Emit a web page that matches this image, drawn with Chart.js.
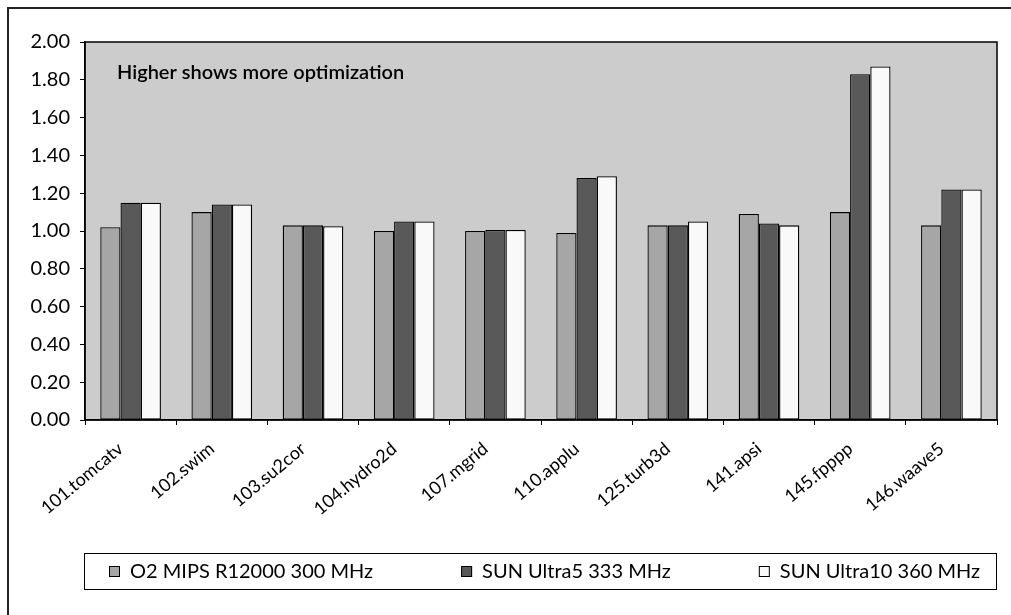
<!DOCTYPE html>
<html>
<head>
<meta charset="utf-8">
<script src="https://cdn.jsdelivr.net/npm/chart.js@4"></script>
<style>
  body { margin: 0; background: #fff; }
  #wrap { width: 1011px; height: 615px; }
</style>
</head>
<body>
<div id="wrap"><canvas id="grafico" width="1011" height="615"></canvas></div>
<script>
// benchmark names
const categorias = ['101.tomcatv', '102.swim', '103.su2cor', '104.hydro2d', '107.mgrid',
                    '110.applu', '125.turb3d', '141.apsi', '145.fpppp', '146.waave5'];
// ratios per machine
const o2Mips = [1.02, 1.10, 1.03, 1.00, 1.00, 0.99, 1.03, 1.09, 1.10, 1.03];
const sunUltra5 = [1.15, 1.14, 1.03, 1.05, 1.005, 1.28, 1.03, 1.04, 1.83, 1.22];
const sunUltra10 = [1.15, 1.14, 1.025, 1.05, 1.005, 1.29, 1.05, 1.03, 1.87, 1.22];
const nomes = ['O2 MIPS R12000 300 MHz', 'SUN Ultra5 333 MHz', 'SUN Ultra10 360 MHz'];
const nota = 'Higher shows more optimization';

Chart.defaults.font.family = 'Lato, "Open Sans", sans-serif';
Chart.defaults.font.size = 20;
Chart.defaults.color = '#000';

// gray plot background + frame, outer border, boxed legend and the note
const fundo = {
    id: 'fundo',
    beforeDraw(chart) {
        const { ctx, chartArea: a } = chart;
        ctx.save();
        ctx.fillStyle = '#cccccc';
        ctx.fillRect(a.left, a.top, a.right - a.left, a.bottom - a.top);
        ctx.restore();
    },
    afterDatasetsDraw(chart) {
        const { ctx, chartArea: a } = chart;
        ctx.save();
        ctx.strokeStyle = '#000';
        ctx.lineWidth = 1.5;
        ctx.strokeRect(a.left, a.top, a.right - a.left, a.bottom - a.top);
        ctx.font = '600 20px Lato, sans-serif';
        ctx.fillStyle = '#000';
        ctx.textBaseline = 'alphabetic';
        ctx.fillText(nota, a.left + 32, a.top + 37);
        ctx.restore();
    },
    afterDraw(chart) {
        const { ctx, chartArea: a } = chart;
        ctx.save();
        // legend frame
        const top = 553, alto = 36;
        ctx.strokeStyle = '#000';
        ctx.lineWidth = 1;
        ctx.strokeRect(84.5, top + 0.5, a.right - 85, alto);
        // legend entries
        ctx.font = '20px Lato, sans-serif';
        ctx.textBaseline = 'middle';
        let x = 109;
        const cy = top + alto / 2 + 1;
        chart.data.datasets.forEach(ds => {
            ctx.fillStyle = ds.backgroundColor;
            ctx.fillRect(x, cy - 6, 11, 11);
            ctx.strokeStyle = '#000';
            ctx.strokeRect(x + 0.5, cy - 5.5, 10, 10);
            ctx.fillStyle = '#000';
            ctx.fillText(ds.label, x + 21, cy);
            x += 21 + ctx.measureText(ds.label).width + 88;
        });
        // outer frame (cut at right and bottom)
        ctx.strokeStyle = '#222';
        ctx.lineWidth = 2;
        ctx.beginPath();
        ctx.moveTo(8, 615);
        ctx.lineTo(8, 8);
        ctx.lineTo(1011, 8);
        ctx.stroke();
        ctx.restore();
    }
};

const ctx = document.getElementById('grafico').getContext('2d');
new Chart(ctx, {
    type: 'bar',
    data: {
        labels: categorias,
        datasets: [
            { label: nomes[0], data: o2Mips, backgroundColor: '#a6a6a6' },
            { label: nomes[1], data: sunUltra5, backgroundColor: '#595959' },
            { label: nomes[2], data: sunUltra10, backgroundColor: '#f9f9f9' }
        ].map(d => Object.assign(d, {
            borderColor: '#000',
            borderWidth: 1.3,
            borderSkipped: false,
            categoryPercentage: 0.665,
            barPercentage: 1
        }))
    },
    options: {
        responsive: false,
        animation: false,
        layout: { padding: { top: 42, right: 14, left: 19, bottom: 75 } },
        plugins: {
            legend: { display: false },
            tooltip: { enabled: false }
        },
        scales: {
            x: {
                afterFit(s) { s.height = 120; },
                grid: { color: '#000', drawOnChartArea: false, tickLength: 5, lineWidth: 1 },
                border: { color: '#000', width: 1.5 },
                ticks: {
                    maxRotation: 40,
                    minRotation: 40,
                    autoSkip: false,
                    padding: 13,
                    labelOffset: -10,
                    font: { size: 18 }
                }
            },
            y: {
                min: 0,
                max: 2,
                afterFit(s) { s.width = 66; },
                grid: { color: '#000', drawOnChartArea: false, tickLength: 5, lineWidth: 1 },
                border: { color: '#000', width: 1.5 },
                ticks: {
                    stepSize: 0.2,
                    autoSkip: false,
                    padding: 10,
                    callback: v => v.toFixed(2)
                }
            }
        }
    },
    plugins: [fundo]
});
</script>
</body>
</html>
